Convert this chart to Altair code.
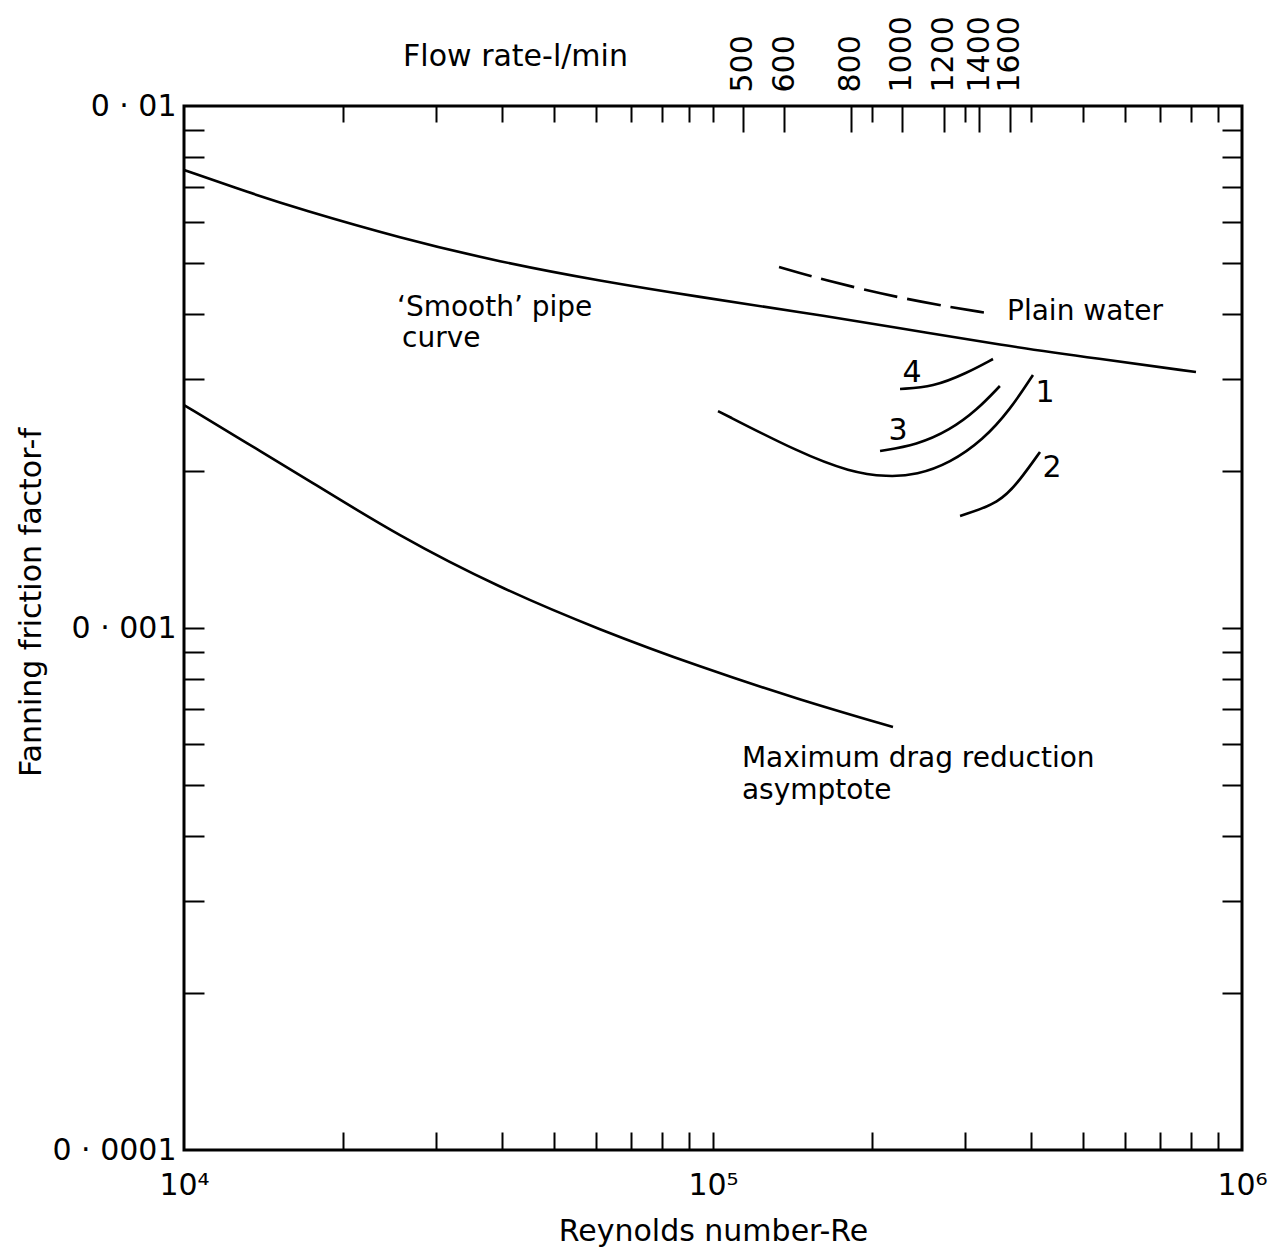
import altair as alt
import pandas as pd

W, H = 1058, 1044
FONT = "DejaVu Sans"

# ---- curve data (Reynolds number, Fanning friction factor) ----
SMOOTH_RE = [1.0e4, 1.333e4, 1.657e4, 2.561e4, 3.958e4, 6.114e4, 9.45e4, 1.461e5, 2.257e5, 3.486e5, 5.387e5, 8.185e5]
SMOOTH_F = [0.007541, 0.006813, 0.006347, 0.005587, 0.005025, 0.004622, 0.004305, 0.004029, 0.003756, 0.003484, 0.003276, 0.003093]

MDR_RE = [1.0e4, 1.333e4, 1.657e4, 2.561e4, 3.958e4, 6.114e4, 9.45e4, 1.461e5, 2.189e5]
MDR_F = [0.002674, 0.002242, 0.001964, 0.001494, 0.001193, 0.000991, 0.000842, 0.000728, 0.000646]

WATER_RE = [1.333e5, 1.594e5, 2.327e5, 3.383e5]
WATER_F = [0.004914, 0.004660, 0.004250, 0.003996]

C1_RE = [1.022e5, 1.461e5, 1.816e5, 2.133e5, 2.43e5, 2.805e5, 3.239e5, 3.641e5, 4.026e5]
C1_F = [0.002604, 0.002164, 0.001990, 0.001947, 0.001964, 0.00207, 0.002292, 0.002616, 0.003053]
C2_RE = [2.931e5, 3.486e5, 3.805e5, 4.151e5]
C2_F = [0.001639, 0.001736, 0.001921, 0.002174]
C3_RE = [2.069e5, 2.43e5, 2.805e5, 3.156e5, 3.486e5]
C3_F = [0.002183, 0.002242, 0.002394, 0.002616, 0.002908]
C4_RE = [2.257e5, 2.605e5, 3.021e5, 3.383e5]
C4_F = [0.00287, 0.002895, 0.00308, 0.003276]

# ---- annotations ----
NOTE_TEXT = ["\u2018Smooth\u2019 pipe", "curve", "Plain water", "Maximum drag reduction", "asymptote"]
NOTE_RE = [2.527e4, 2.583e4, 3.596e5, 1.134e5, 1.134e5]
NOTE_F = [0.003960, 0.003454, 0.003890, 0.000542, 0.000470]

NUM_TEXT = ["1", "2", "3", "4"]
NUM_RE = [4.243e5, 4.373e5, 2.237e5, 2.378e5]
NUM_F = [0.00271, 0.001947, 0.002292, 0.00296]

# ---- axes ----
RE_DOMAIN = [1e4, 1e6]
F_DOMAIN = [1e-4, 1e-2]
RE_MAJOR = [1e4, 1e5, 1e6]
RE_MAJOR_TEXT = ["10\u2074", "10\u2075", "10\u2076"]
F_MAJOR = [1e-4, 1e-3, 1e-2]
F_MAJOR_TEXT = ["0 \u00b7 0001", "0 \u00b7 001", "0 \u00b7 01"]
RE_MINOR = [2e4, 3e4, 4e4, 5e4, 6e4, 7e4, 8e4, 9e4, 1e5, 2e5, 3e5, 4e5, 5e5, 6e5, 7e5, 8e5, 9e5]
F_MINOR = [2e-4, 3e-4, 4e-4, 5e-4, 6e-4, 7e-4, 8e-4, 9e-4, 1e-3, 2e-3, 3e-3, 4e-3, 5e-3, 6e-3, 7e-3, 8e-3, 9e-3]
FLOW_TICKS = [500, 600, 800, 1000, 1200, 1400, 1600]
RE_PER_FLOW = 227.5


def label_expr(values, texts):
    parts = [f"abs(datum.value / {v} - 1) < 0.01 ? '{t}'" for v, t in zip(values, texts)]
    return " : ".join(parts) + " : ''"


def rows(series, res, fs):
    return [{"series": series, "Re": r, "f": f} for r, f in zip(res, fs)]


solid_df = pd.DataFrame(
    rows("smooth", SMOOTH_RE, SMOOTH_F) + rows("mdr", MDR_RE, MDR_F)
    + rows("c1", C1_RE, C1_F) + rows("c2", C2_RE, C2_F)
    + rows("c3", C3_RE, C3_F) + rows("c4", C4_RE, C4_F)
)
water_df = pd.DataFrame(rows("water", WATER_RE, WATER_F))
note_df = pd.DataFrame({"Re": NOTE_RE, "f": NOTE_F, "text": NOTE_TEXT})
num_df = pd.DataFrame({"Re": NUM_RE, "f": NUM_F, "text": NUM_TEXT})
flow_df = pd.DataFrame({"Q": FLOW_TICKS})

xs = alt.Scale(type="log", domain=RE_DOMAIN, nice=False)
ys = alt.Scale(type="log", domain=F_DOMAIN, nice=False)
qs = alt.Scale(type="log", domain=[RE_DOMAIN[0] / RE_PER_FLOW, RE_DOMAIN[1] / RE_PER_FLOW], nice=False)

common = dict(grid=False, domain=False, labelFont=FONT, titleFont=FONT, labelColor="black",
              titleColor="black", tickColor="black", titleFontWeight="normal")


def tick_axis(orient, offset, values, size):
    return alt.Axis(orient=orient, offset=offset, values=values, labels=False, ticks=True,
                    tickSize=size, tickWidth=2, title=None, **common)


main_x = alt.Axis(orient="bottom", values=RE_MAJOR, labelExpr=label_expr(RE_MAJOR, RE_MAJOR_TEXT),
                  ticks=False, labelPadding=20, labelFlush=False, labelOverlap=False,
                  labelFontSize=30, title="Reynolds number-Re", titleFontSize=30, titlePadding=16, **common)
main_y = alt.Axis(orient="left", values=F_MAJOR, labelExpr=label_expr(F_MAJOR, F_MAJOR_TEXT),
                  ticks=False, labelPadding=8, labelFlush=False, labelOverlap=False,
                  labelFontSize=30, title="Fanning friction factor-f", titleFontSize=30,
                  titleAngle=270, titleX=-153, titleY=496, titleAlign="center",
                  titleBaseline="middle", **common)

solid = alt.Chart(solid_df).mark_line(color="black", strokeWidth=2.6, interpolate="basis").encode(
    x=alt.X("Re:Q", scale=xs, axis=main_x),
    y=alt.Y("f:Q", scale=ys, axis=main_y),
    detail="series:N",
)

water = alt.Chart(water_df).mark_line(color="black", strokeWidth=2.6, strokeDash=[34, 10],
                                      interpolate="basis").encode(
    x=alt.X("Re:Q", scale=xs, axis=tick_axis("top", -H, RE_MINOR, 18)),
    y=alt.Y("f:Q", scale=ys, axis=tick_axis("right", -W, F_MINOR, 20)),
)

notes = alt.Chart(note_df).mark_text(align="left", baseline="alphabetic", fontSize=28, font=FONT,
                                     color="black").encode(
    x=alt.X("Re:Q", scale=xs, axis=tick_axis("bottom", -H, RE_MINOR, 16)),
    y=alt.Y("f:Q", scale=ys, axis=tick_axis("left", -W, F_MINOR, 20)),
    text="text:N",
)

nums = alt.Chart(num_df).mark_text(align="center", baseline="alphabetic", fontSize=30, font=FONT,
                                   color="black").encode(
    x=alt.X("Re:Q", scale=xs, axis=None),
    y=alt.Y("f:Q", scale=ys, axis=None),
    text="text:N",
)

flow_labels = alt.Chart(flow_df).mark_point(opacity=0).encode(
    x=alt.X("Q:Q", scale=qs, axis=alt.Axis(
        orient="top", values=FLOW_TICKS, format="d", ticks=False, labelAngle=270, labelAlign="left",
        labelBaseline="middle", labelPadding=14, labelFontSize=30, labelFlush=False,
        labelOverlap=False, title="Flow rate-l/min", titleFontSize=30, titleAngle=0,
        titleX=331, titleY=-50, titleAlign="center", titleBaseline="middle", **common)),
    y=alt.value(0),
)

flow_ticks = alt.Chart(flow_df).mark_point(opacity=0).encode(
    x=alt.X("Q:Q", scale=qs, axis=tick_axis("bottom", -H, FLOW_TICKS, 26)),
    y=alt.value(0),
)

chart = alt.layer(solid, water, notes, nums, flow_labels, flow_ticks).resolve_scale(
    x="independent", y="independent"
).resolve_axis(
    x="independent", y="independent"
).properties(
    width=W, height=H,
    autosize=alt.AutoSizeParams(type="none"),
    padding={"left": 176, "top": 98, "right": 30, "bottom": 100},
).configure_view(stroke="black", strokeWidth=3)

chart.save("out.html", embed_options={"renderer": "svg", "actions": False})
